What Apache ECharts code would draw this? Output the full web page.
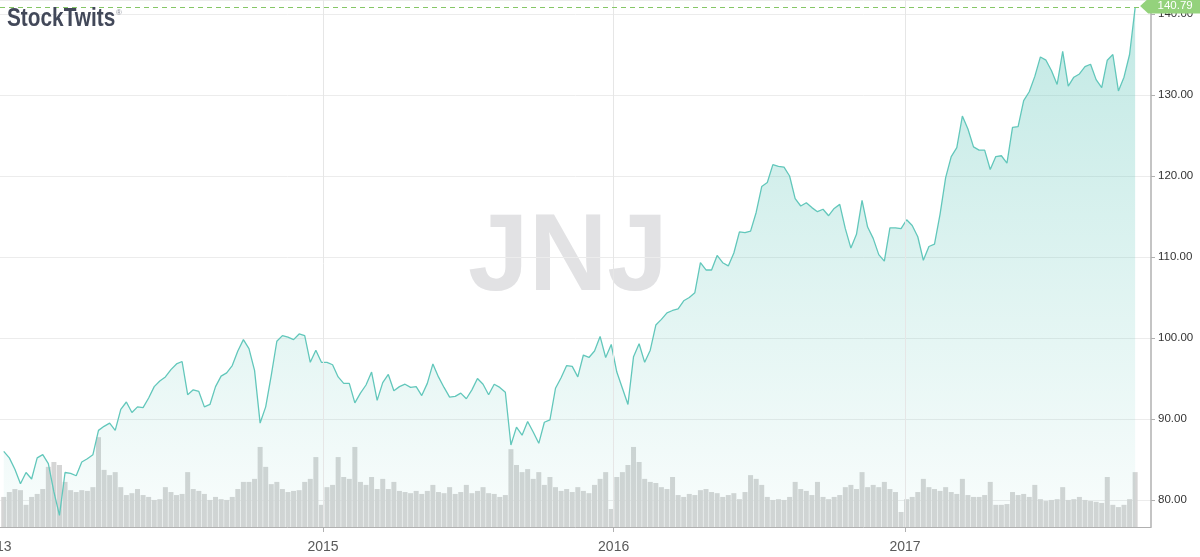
<!DOCTYPE html>
<html><head><meta charset="utf-8">
<script src="https://cdn.jsdelivr.net/npm/echarts@6/dist/echarts.min.js"></script>
<style>html,body{margin:0;padding:0;background:#fff}#c{width:1200px;height:557px}</style>
</head><body><div id="c"></div>
<script>
const DAY = 86400000;
// weekly closes, first week 2013-11-26, last 2017-10-17
const firstWeek = '2013-11-26';
const yearTicks = ['2015-01-01', '2016-01-01', '2017-01-01'];
const priceTicks = [80, 90, 100, 110, 120, 130, 140];
const ticker = 'JNJ';
const lastPrice = 140.79;

const prices = [
  86.0, 85.2, 83.8, 82.0, 83.4, 82.6, 85.2, 85.6, 84.5, 81.0,
  78.1, 83.4, 83.3, 83.0, 84.7, 85.1, 85.6, 88.6, 89.1, 89.5,
  88.6, 91.2, 92.1, 90.8, 91.5, 91.4, 92.6, 94.0, 94.7, 95.2,
  96.1, 96.8, 97.1, 93.0, 93.6, 93.4, 91.5, 91.8, 94.0, 95.3,
  95.7, 96.6, 98.4, 99.8, 98.7, 96.0, 89.5, 91.5, 95.4, 99.6,
  100.3, 100.1, 99.8, 100.5, 100.3, 97.0, 98.5, 97.0, 97.0, 96.7,
  95.2, 94.4, 94.4, 92.0, 93.2, 94.2, 95.8, 92.3, 94.5, 95.5,
  93.5, 94.0, 94.3, 93.9, 94.0, 92.9, 94.4, 96.8, 95.2, 93.9,
  92.7, 92.8, 93.2, 92.5, 93.6, 95.0, 94.3, 93.0, 94.3, 93.9,
  93.3, 86.8, 89.0, 88.0, 89.7, 88.4, 87.0, 89.6, 89.9, 93.8,
  95.1, 96.6, 96.5, 95.2, 97.9, 97.6, 98.4, 100.2, 97.6, 99.2,
  95.8, 93.8, 91.8, 97.7, 99.3, 97.0, 98.5, 101.6, 102.3, 103.1,
  103.4, 103.6, 104.6, 105.0, 105.6, 109.3, 108.4, 108.4, 110.2, 109.3,
  108.9, 110.5, 113.1, 113.0, 113.2, 115.5, 118.7, 119.2, 121.4, 121.2,
  121.1, 120.0, 117.2, 116.3, 116.7, 116.1, 115.6, 115.9, 115.1, 116.0,
  116.5, 113.5, 111.1, 112.8, 117.0, 113.7, 112.3, 110.3, 109.5, 113.6,
  113.6, 113.5, 114.6, 113.9, 112.5, 109.6, 111.3, 111.6, 115.3, 119.8,
  122.4, 123.5, 127.4, 125.8, 123.6, 123.2, 123.2, 120.8, 122.4, 122.5,
  121.6, 126.0, 126.1, 129.3, 130.4, 132.3, 134.7, 134.3, 133.0, 131.3,
  135.4, 131.1, 132.2, 132.6, 133.5, 133.8, 131.9, 130.9, 134.3, 135.0,
  130.5, 132.2, 135.0, 140.79
];

// volume, millions of shares
const volumes = [
  8.0, 9.3, 10.1, 9.8, 5.9, 8.0, 8.8, 10.1, 16.0, 17.3,
  16.5, 12.0, 9.8, 9.3, 9.8, 9.6, 10.6, 23.9, 15.2, 13.8,
  14.6, 10.6, 8.5, 9.0, 10.1, 8.5, 8.0, 7.2, 7.4, 10.6,
  9.3, 8.5, 8.8, 14.6, 10.1, 9.6, 8.8, 7.2, 8.0, 7.4,
  7.2, 8.0, 10.1, 12.0, 12.0, 12.8, 21.3, 16.0, 11.4, 12.0,
  10.1, 9.3, 9.6, 9.8, 12.0, 12.8, 18.6, 5.9, 10.6, 11.2,
  18.6, 13.3, 12.8, 21.3, 12.0, 11.2, 13.3, 10.1, 12.8, 10.1,
  12.0, 9.6, 9.3, 9.0, 9.6, 8.8, 9.6, 11.2, 9.3, 9.0,
  10.6, 8.8, 9.3, 11.2, 9.0, 9.6, 10.6, 9.0, 8.8, 8.0,
  8.5, 20.7, 16.5, 14.6, 15.4, 12.8, 14.6, 11.2, 13.3, 10.6,
  9.6, 10.1, 9.3, 10.6, 9.6, 9.0, 11.2, 12.8, 14.6, 4.8,
  13.3, 14.6, 16.5, 21.3, 17.3, 12.8, 12.0, 11.7, 10.6, 10.1,
  13.3, 8.5, 8.0, 8.8, 8.5, 9.8, 10.1, 9.3, 9.0, 8.0,
  8.5, 9.0, 7.4, 9.3, 13.8, 12.8, 11.2, 8.0, 7.2, 7.4,
  7.2, 8.0, 12.0, 10.1, 9.6, 8.5, 12.0, 8.0, 7.4, 8.0,
  8.5, 10.6, 11.2, 10.1, 14.6, 10.6, 11.2, 10.6, 12.0, 10.1,
  9.3, 4.0, 7.4, 8.0, 9.3, 12.8, 10.6, 10.1, 9.6, 10.6,
  9.3, 8.8, 12.8, 8.5, 8.0, 8.0, 8.5, 12.0, 5.9, 5.9,
  6.1, 9.3, 8.5, 8.8, 8.0, 11.2, 7.4, 6.9, 7.2, 7.4,
  10.6, 7.2, 7.4, 8.0, 7.2, 6.9, 6.7, 6.4, 13.3, 5.9,
  5.3, 5.9, 7.4, 14.6
];

const t0 = Date.parse(firstWeek + 'T00:00:00Z');
const dates = prices.map((_, i) => t0 + i * 7 * DAY);
const priceData = prices.map((p, i) => [dates[i], p]);
const volData = volumes.map((v, i) => [dates[i], v]);
const yearTickMs = yearTicks.map(d => Date.parse(d + 'T00:00:00Z'));

// layout of the date axis
const xMin = Date.parse('2015-01-01T00:00:00Z') - 405.7 * DAY;
const xMax = xMin + (1151 / 0.7962) * DAY;

const chart = echarts.init(document.getElementById('c'), null, {renderer: 'canvas'});
chart.setOption({
  animation: false,
  backgroundColor: '#fff',
  grid: {left: 0, right: 49, top: 0, bottom: 30, containLabel: false},
  xAxis: {
    type: 'value',
    min: xMin,
    max: xMax,
    axisLine: {show: true, onZero: false, lineStyle: {color: '#b0b0b0', width: 1}},
    axisTick: {show: true, length: 5, lineStyle: {color: '#b0b0b0'}, customValues: yearTickMs},
    axisLabel: {
      customValues: yearTickMs,
      formatter: v => String(new Date(v).getUTCFullYear()),
      color: '#5a5a5a', fontSize: 14, margin: 13,
      fontFamily: '"Liberation Sans", Arial, sans-serif'
    },
    splitLine: {show: false}
  },
  yAxis: [{
    type: 'value',
    position: 'right',
    min: 76.67,
    max: 141.73,
    minInterval: 10,
    maxInterval: 10,
    axisLine: {show: true, lineStyle: {color: '#b0b0b0', width: 1.5}},
    axisTick: {show: true, length: 4, lineStyle: {color: '#b0b0b0'}},
    axisLabel: {
      showMinLabel: false, showMaxLabel: false,
      formatter: v => priceTicks.indexOf(Math.round(v)) >= 0 ? v.toFixed(2) : '',
      color: '#333', fontSize: 11.5, margin: 7,
      fontFamily: '"Liberation Sans", Arial, sans-serif'
    },
    splitLine: {show: true, lineStyle: {color: '#ececec', width: 1}}
  }, {
    type: 'value',
    min: 0,
    max: 140.2,
    show: false,
    splitLine: {show: false}
  }],
  graphic: [
    {type: 'text', x: 7, y: 6, scaleX: 0.8, z: 10,
      style: {text: 'StockTwits', font: 'bold 26px "Liberation Sans", Arial, sans-serif', fill: '#424859'}},
    {type: 'text', x: 116, y: 9, z: 10,
      style: {text: '\u00AE', font: '8px "Liberation Sans", sans-serif', fill: '#8a8f9a'}},
    {type: 'text', x: 568, y: 260, z: 0,
      style: {text: ticker, font: 'bold 109px "Liberation Sans", Arial, sans-serif', fill: '#e2e2e4', align: 'center', verticalAlign: 'middle'}},
    {type: 'text', x: -4, y: 547, z: 10,
      style: {text: '2013', font: '14px "Liberation Sans", Arial, sans-serif', fill: '#5a5a5a', align: 'center', verticalAlign: 'middle'}}
  ],
  series: [{
    type: 'bar',
    name: 'Volume',
    xAxisIndex: 0,
    yAxisIndex: 1,
    data: volData,
    barWidth: 5,
    itemStyle: {color: '#d5d5d5'},
    z: 2,
    silent: true,
    markLine: {
      silent: true,
      symbol: ['none', 'none'],
      label: {show: false},
      lineStyle: {color: '#e6e6e6', type: 'solid', width: 1},
      data: yearTickMs.map(t => ({xAxis: t}))
    }
  }, {
    type: 'line',
    name: ticker,
    data: priceData,
    showSymbol: false,
    symbol: 'none',
    z: 3,
    lineStyle: {color: '#62c7bb', width: 1.3},
    areaStyle: {
      color: {type: 'linear', x: 0, y: 0, x2: 0, y2: 1,
        colorStops: [{offset: 0, color: 'rgba(98,199,187,0.56)'}, {offset: 1, color: 'rgba(98,199,187,0.05)'}]}
    },
    markLine: {
      silent: true,
      symbol: ['none', 'none'],
      label: {show: false},
      lineStyle: {color: '#86c766', type: [5, 4], width: 1.2, opacity: 1},
      data: [{yAxis: lastPrice, lineStyle: {color: '#86c766', type: [5, 4], width: 1.2, opacity: 1}}]
    },
    markPoint: {
      silent: true,
      symbol: 'path://M0,7.5L8,0L64,0L64,15L8,15Z',
      symbolSize: [64, 15],
      symbolOffset: [37, -1.5],
      itemStyle: {color: '#94d27c'},
      label: {show: true, position: 'inside', offset: [3, 0], formatter: lastPrice.toFixed(2), color: '#fff', fontSize: 11.5,
        fontFamily: '"Liberation Sans", Arial, sans-serif'},
      data: [{coord: [dates[dates.length - 1], lastPrice]}]
    }
  }]
});
</script>
</body></html>
